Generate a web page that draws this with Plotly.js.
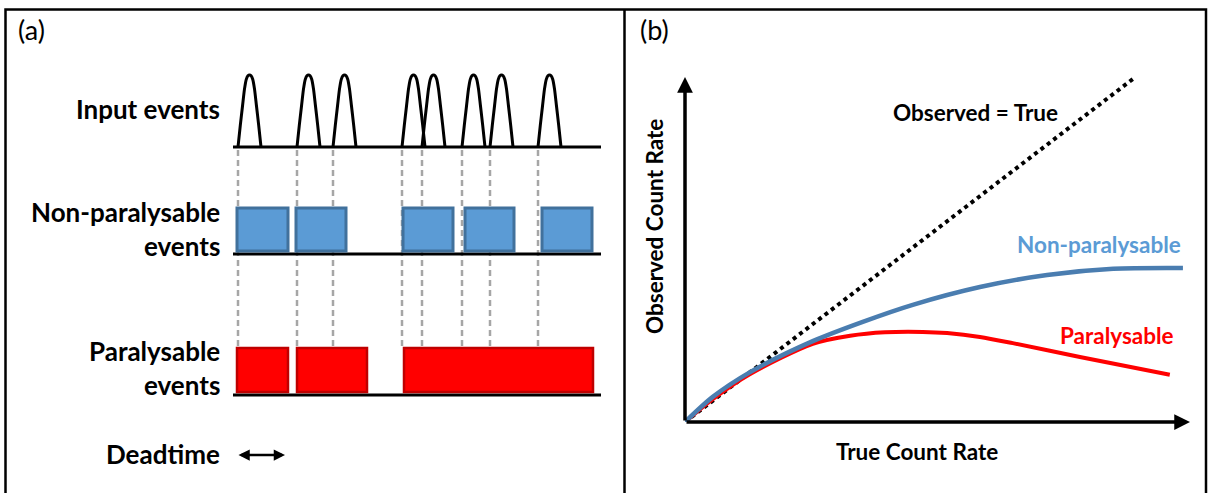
<!DOCTYPE html>
<html>
<head>
<meta charset="utf-8">
<script src="https://cdn.plot.ly/plotly-3.0.1.min.js"></script>
<style>html,body{margin:0;padding:0;background:#fff;}#chart{width:1211px;height:493px;}</style>
</head>
<body>
<div id="chart"></div>
<script>
// ---------------- DATA ----------------
// Panel (a): times of input events (deadtime units)
const inputEvents = [0.10, 1.28, 2.00, 3.38, 3.78, 4.58, 5.14, 6.10];
const pulseWidth = 0.46;
// pulse outline template (fraction of width, fraction of height)
const pulseU = [0, 0.1, 0.2, 0.28, 0.36, 0.43, 0.5, 0.57, 0.64, 0.72, 0.8, 0.9, 1];
const pulseV = [0, 0.3, 0.58, 0.8, 0.94, 0.99, 1, 0.99, 0.94, 0.8, 0.58, 0.3, 0];
// recorded dead periods
const nonParStart = [0.08, 1.26, 3.40, 4.64, 6.18];
const nonParEnd   = [1.10, 2.26, 4.40, 5.62, 7.18];
const parStart    = [0.08, 1.28, 3.42];
const parEnd      = [1.10, 2.68, 7.20];
const deadtime = 0.96;
const timeEnd = 7.36;

// Panel (b): count-rate curves
const identityX = [0, 88.7];
const identityY = [0, 88.7];
const nonParX = [0, 5.5, 12.9, 25.3, 35.2, 45.1, 58.4, 71.7, 84.8, 98.6];
const nonParY = [0, 6.5, 12.9, 20.9, 25.9, 30.3, 34.9, 38.0, 39.6, 39.8];
const parX = [0, 5.5, 12.9, 25.3, 32.7, 39.6, 47.1, 51.9, 58.4, 64.9, 78.2, 96.0];
const parY = [0, 5.9, 12.4, 20.2, 22.3, 23.2, 23.3, 23.0, 22.0, 20.4, 16.8, 12.2];

// ---------------- LAYOUT CONSTANTS ----------------
const W = 1211, H = 493;
const rows = {inputBase: 147, inputPeak: 75, guideTop: 150, guideBottom: 347,
  npBase: 254, npTop: 208, npBottom: 251, pBase: 395, pTop: 348, pBottom: 392, arrowY: 455};
const FONT = 'Lato, "Open Sans", sans-serif';
const fa = 26, fb = 22.5, fl = 27;
const blueFill = '#5b9bd5', blueEdge = '#41719c', redFill = '#ff0000', redEdge = '#c00000';

const traces = [];
// dashed guides
const gx = [], gy = [];
inputEvents.forEach(t => { gx.push(t, t, null); gy.push(rows.guideTop, rows.guideBottom, null); });
traces.push({x: gx, y: gy, xaxis: 'x', yaxis: 'y', mode: 'lines', hoverinfo: 'skip',
  line: {color: '#a6a6a6', width: 2.5, dash: '6px,4px'}});
// baselines
const bx = [], by = [];
[rows.inputBase, rows.npBase, rows.pBase].forEach(y => { bx.push(0, timeEnd, null); by.push(y, y, null); });
traces.push({x: bx, y: by, xaxis: 'x', yaxis: 'y', mode: 'lines', hoverinfo: 'skip',
  line: {color: '#000', width: 3}});
// pulses
inputEvents.forEach(t => {
  traces.push({x: pulseU.map(u => t + u * pulseWidth),
    y: pulseV.map(v => rows.inputBase - v * (rows.inputBase - rows.inputPeak)),
    xaxis: 'x', yaxis: 'y', mode: 'lines', hoverinfo: 'skip',
    line: {color: '#000', width: 3, shape: 'spline', smoothing: 0.6}});
});
// panel b curves
traces.push({x: identityX, y: identityY, xaxis: 'x2', yaxis: 'y2', mode: 'lines', hoverinfo: 'skip',
  line: {color: '#000', width: 4, dash: 'dot'}});
traces.push({x: parX, y: parY, xaxis: 'x2', yaxis: 'y2', mode: 'lines', hoverinfo: 'skip',
  line: {color: '#ff0000', width: 4, shape: 'spline', smoothing: 0.8}});
traces.push({x: nonParX, y: nonParY, xaxis: 'x2', yaxis: 'y2', mode: 'lines', hoverinfo: 'skip',
  line: {color: '#4a7db0', width: 4.5, shape: 'spline', smoothing: 0.8}});

const shapes = [];
// frame
shapes.push({type: 'rect', xref: 'paper', yref: 'paper', x0: 5.5 / W, x1: 1206 / W, y0: 1 - 520 / H, y1: 1 - 9.5 / H,
  line: {color: '#000', width: 2.5}, fillcolor: 'rgba(0,0,0,0)', layer: 'above'});
shapes.push({type: 'line', xref: 'paper', yref: 'paper', x0: 624.5 / W, x1: 624.5 / W, y0: 0, y1: 1 - 9.5 / H,
  line: {color: '#000', width: 2.5}, layer: 'above'});
nonParStart.forEach((s, i) => shapes.push({type: 'rect', xref: 'x', yref: 'y', x0: s, x1: nonParEnd[i],
  y0: rows.npBottom, y1: rows.npTop, fillcolor: blueFill, line: {color: blueEdge, width: 3}, layer: 'above'}));
parStart.forEach((s, i) => shapes.push({type: 'rect', xref: 'x', yref: 'y', x0: s, x1: parEnd[i],
  y0: rows.pBottom, y1: rows.pTop, fillcolor: redFill, line: {color: redEdge, width: 2.5}, layer: 'above'}));

function lab(text, x, y, xanchor, size, color, extra) {
  return Object.assign({text: text, xref: 'paper', yref: 'paper', x: x / W, y: 1 - y / H,
    xanchor: xanchor, yanchor: 'middle', showarrow: false,
    font: {family: FONT, size: size, color: color || '#000', weight: 'bold'}}, extra || {});
}
const annotations = [
  lab('(a)', 16, 30, 'left', fl, '#000', {font: {family: FONT, size: fl, color: '#000'}}),
  lab('(b)', 638, 30, 'left', fl, '#000', {font: {family: FONT, size: fl, color: '#000'}}),
  lab('Input events', 222, 109, 'right', fa),
  lab('Non-paralysable', 222, 212, 'right', fa),
  lab('events', 222, 246, 'right', fa),
  lab('Paralysable', 222, 351, 'right', fa),
  lab('events', 222, 385, 'right', fa),
  lab('Deadtime', 222, 454, 'right', fa),
  lab('Observed = True', 976, 112, 'center', fb),
  lab('Non-paralysable', 1099, 244, 'center', fb, blueFill),
  lab('Paralysable', 1117, 335, 'center', fb, '#ff0000'),
  lab('True Count Rate', 917, 451, 'center', fb),
  lab('Observed Count Rate', 654, 227, 'center', fb, '#000', {textangle: -90}),
  // deadtime arrow
  {xref: 'x', yref: 'y', axref: 'x', ayref: 'y', x: 0.08 + deadtime, y: rows.arrowY, ax: 0.08, ay: rows.arrowY,
   text: '', showarrow: true, arrowside: 'end+start', arrowhead: 2, arrowsize: 0.9, arrowwidth: 2.5, arrowcolor: '#000', standoff: 0, startstandoff: 0},
  // axes arrows panel b
  {xref: 'x2', yref: 'y2', axref: 'x2', ayref: 'y2', x: 0, y: 89.2, ax: 0, ay: 0,
   text: '', showarrow: true, arrowhead: 2, arrowsize: 0.9, arrowwidth: 3.5, arrowcolor: '#000', standoff: 0},
  {xref: 'x2', yref: 'y2', axref: 'x2', ayref: 'y2', x: 100, y: 0, ax: 0, ay: 0,
   text: '', showarrow: true, arrowhead: 2, arrowsize: 0.9, arrowwidth: 3.5, arrowcolor: '#000', standoff: 0}
];

const hidden = {visible: false, showgrid: false, zeroline: false, fixedrange: true};
const layout = {
  width: W, height: H, margin: {l: 0, r: 0, t: 0, b: 0},
  paper_bgcolor: '#fff', plot_bgcolor: 'rgba(0,0,0,0)', showlegend: false,
  xaxis: Object.assign({domain: [233 / W, 603 / W], range: [0, 7.4], anchor: 'y'}, hidden),
  yaxis: Object.assign({domain: [0, 1], range: [H, 0], anchor: 'x'}, hidden),
  xaxis2: Object.assign({domain: [685 / W, 1190 / W], range: [0, 100], anchor: 'y2'}, hidden),
  yaxis2: Object.assign({domain: [1 - 422 / H, 1 - 77 / H], range: [0, 89.2], anchor: 'x2'}, hidden),
  shapes: shapes, annotations: annotations
};
Plotly.newPlot('chart', traces, layout, {staticPlot: true, displayModeBar: false});
</script>
</body>
</html>
